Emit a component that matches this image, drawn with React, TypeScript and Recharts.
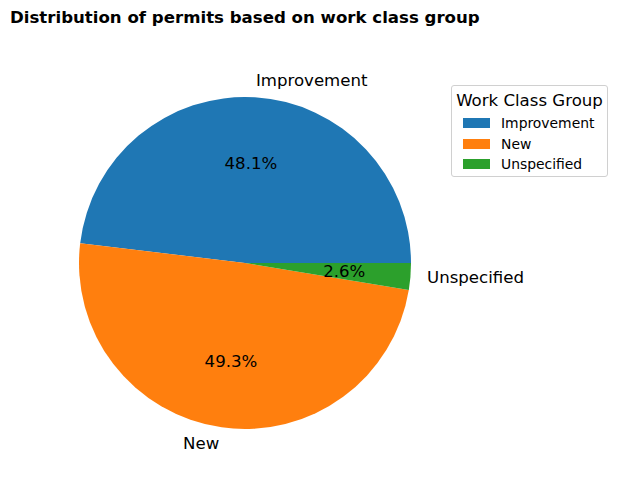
import React from 'react';
import { PieChart, Pie, Cell, Legend } from 'recharts';

const categories = ['Improvement', 'New', 'Unspecified'];
const shares = [48.1, 49.3, 2.6];
const colors = ['#1f77b4', '#ff7f0e', '#2ca02c'];
const chartTitle = 'Distribution of permits based on work class group';
const legendTitle = 'Work Class Group';

const data = categories.map((name, i) => ({ name, value: shares[i] }));

const FONT = '"DejaVu Sans", sans-serif';
const RADIAN = Math.PI / 180;

const renderLabel = (props: any) => {
  const { cx, cy, midAngle, outerRadius, percent, name } = props;
  const cos = Math.cos(-midAngle * RADIAN);
  const sin = Math.sin(-midAngle * RADIAN);
  const ox = cx + outerRadius * 1.1 * cos;
  const oy = cy + outerRadius * 1.1 * sin;
  const ix = cx + outerRadius * 0.6 * cos;
  const iy = cy + outerRadius * 0.6 * sin;
  return (
    <g>
      <text
        x={ox}
        y={oy}
        textAnchor={cos >= 0 ? 'start' : 'end'}
        dominantBaseline="central"
        fontSize={16.6}
        fontFamily={FONT}
        fill="#000"
      >
        {name}
      </text>
      <text
        x={ix}
        y={iy}
        textAnchor="middle"
        dominantBaseline="central"
        fontSize={16.6}
        fontFamily={FONT}
        fill="#000"
      >
        {(percent * 100).toFixed(1)}%
      </text>
    </g>
  );
};

const LegendBox = () => (
  <div
    style={{
      width: 157,
      height: 92,
      border: '1px solid #d0d0d0',
      borderRadius: 3,
      background: '#fff',
      fontFamily: FONT,
      boxSizing: 'border-box',
      padding: '3px 0 0 0',
    }}
  >
    <div style={{ fontSize: 16.6, textAlign: 'center', lineHeight: '24px', color: '#000', whiteSpace: 'nowrap' }}>
      {legendTitle}
    </div>
    {categories.map((c, i) => (
      <div
        key={c}
        style={{ display: 'flex', alignItems: 'center', height: 20.5, marginLeft: 11 }}
      >
        <div style={{ width: 27, height: 10, background: colors[i], marginRight: 11 }} />
        <span style={{ fontSize: 13.9, color: '#000' }}>{c}</span>
      </div>
    ))}
  </div>
);

export default function App() {
  return (
    <div style={{ position: 'absolute', left: 0, top: 0, width: 617, height: 504, background: '#fff' }}>
      <div
        style={{
          position: 'absolute',
          left: 10,
          top: 8,
          fontFamily: FONT,
          fontWeight: 'bold',
          fontSize: 16.6,
          lineHeight: '20px',
          color: '#000',
          whiteSpace: 'nowrap',
        }}
      >
        {chartTitle}
      </div>
      <PieChart
        width={617}
        height={504}
        margin={{ top: 0, right: 0, bottom: 0, left: 0 }}
        style={{ position: 'absolute', left: 0, top: 0 }}
      >
        <Pie
          data={data}
          dataKey="value"
          nameKey="name"
          cx={245}
          cy={263}
          outerRadius={166}
          startAngle={0}
          endAngle={360}
          stroke="none"
          label={renderLabel}
          labelLine={false}
          isAnimationActive={false}
        >
          {data.map((d, i) => (
            <Cell key={d.name} fill={colors[i]} />
          ))}
        </Pie>
        <Legend
          content={<LegendBox />}
          wrapperStyle={{ position: 'absolute', left: 451, top: 85, width: 157 }}
        />
      </PieChart>
    </div>
  );
}
